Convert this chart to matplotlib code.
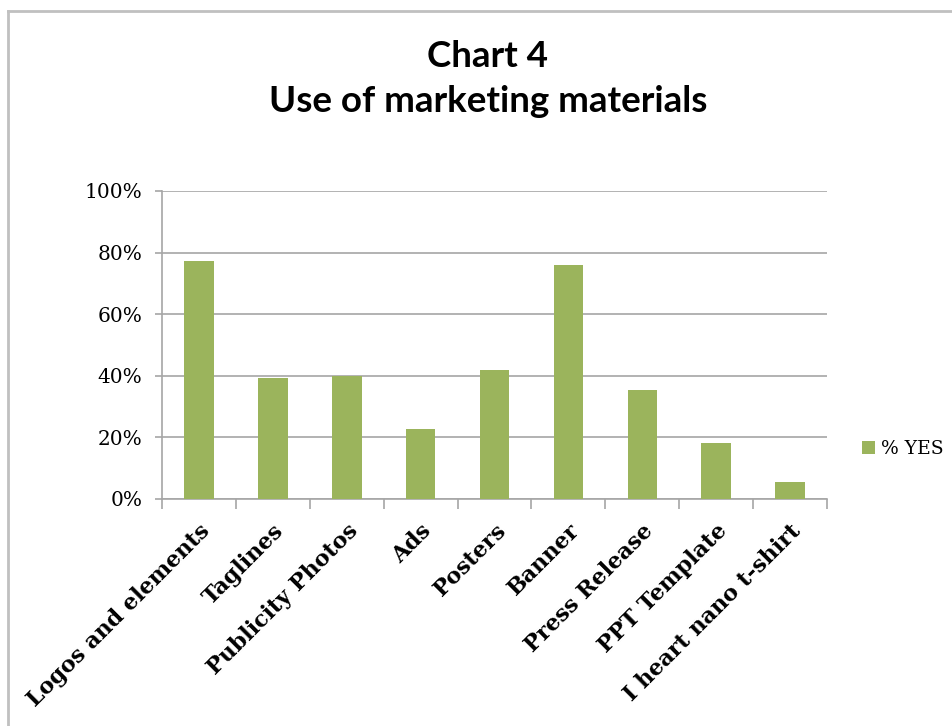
import numpy as np
import matplotlib
matplotlib.use('Agg')
import matplotlib.pyplot as plt
from matplotlib.lines import Line2D
from matplotlib.ticker import PercentFormatter

# values
categories = ['Logos and elements', 'Taglines', 'Publicity Photos', 'Ads', 'Posters',
              'Banner', 'Press Release', 'PPT Template', 'I heart nano t-shirt']
pct_yes = [77.4, 39.3, 39.9, 22.6, 41.8, 76.1, 35.3, 18.1, 5.4]
yticks = [0, 20, 40, 60, 80, 100]

bar_color = '#9BB45C'
grid_color = '#A6A6A6'

fig = plt.figure(figsize=(9.52, 7.26), dpi=100)
ax = fig.add_axes([162/952, 1 - 499/726, 665/952, 308/726])

x = np.arange(len(categories))
ax.bar(x, pct_yes, width=0.4, color=bar_color, label='% YES', zorder=3)

ax.set_xlim(-0.5, len(categories) - 0.5)
ax.set_ylim(0, 100)
ax.set_yticks(yticks)
ax.yaxis.set_major_formatter(PercentFormatter(decimals=0))
ax.grid(axis='y', color=grid_color, linewidth=1.2, zorder=0)

# category boundaries as major ticks, labels on minor ticks at centres
ax.set_xticks(np.arange(-0.5, len(categories), 1.0))
ax.set_xticklabels([])
ax.set_xticks(x, minor=True)
ax.set_xticklabels(categories, minor=True, rotation=45, ha='right',
                   rotation_mode='anchor', fontfamily='DejaVu Serif',
                   fontweight='bold', fontsize=16)
ax.tick_params(axis='x', which='major', length=7, color=grid_color, width=1.2)
ax.tick_params(axis='x', which='minor', length=0, pad=15)
ax.tick_params(axis='y', length=5, color=grid_color, width=1.2, pad=9)
for lab in ax.get_yticklabels():
    lab.set_fontfamily('DejaVu Serif')
    lab.set_fontsize(14.5)

for side in ['top', 'right']:
    ax.spines[side].set_visible(False)
for side in ['left', 'bottom']:
    ax.spines[side].set_color(grid_color)
    ax.spines[side].set_linewidth(1.2)

fig.text(488/952, 1 - 67/726, 'Chart 4', ha='center', va='baseline',
         fontfamily='Lato', fontweight='bold', fontsize=26.5)
fig.text(488/952, 1 - 112/726, 'Use of marketing materials', ha='center', va='baseline',
         fontfamily='Lato', fontweight='bold', fontsize=26.5)

fig.legend(loc='center left', bbox_to_anchor=(862/952, 1 - 449/726),
           frameon=False, handlelength=0.7, handleheight=0.7, handletextpad=0.3,
           borderpad=0, borderaxespad=0,
           prop={'family': 'DejaVu Serif', 'size': 13.5})

# chart border (top and left edges visible in the reference)
fig.add_artist(Line2D([8/952, 1], [1 - 11/726, 1 - 11/726], color='#C0C0C0', linewidth=2))
fig.add_artist(Line2D([8/952, 8/952], [0, 1 - 11/726], color='#C0C0C0', linewidth=2))

fig.savefig('out.png', dpi=100)
